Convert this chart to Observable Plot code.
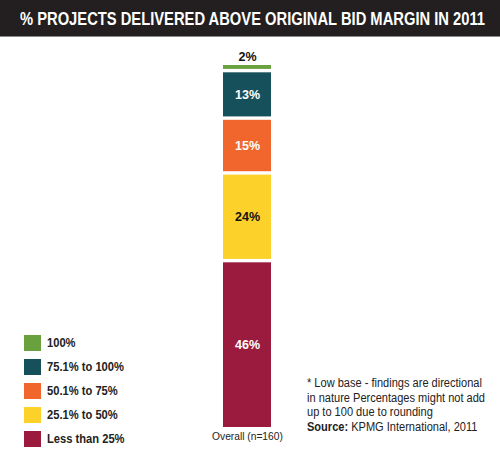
<!DOCTYPE html>
<html><head><meta charset="utf-8">
<script src="https://cdn.jsdelivr.net/npm/d3@7"></script>
<script src="https://cdn.jsdelivr.net/npm/@observablehq/plot@0.6"></script>
<style>
body{margin:0;background:#fff;}
#wrap{position:relative;width:500px;height:450px;overflow:hidden;font-family:"Liberation Sans",Arial,sans-serif;}
#title{height:36px;background:#231f20;border-bottom:1px solid #8a8a8a;position:relative;}
#title span{position:absolute;left:20px;top:0;color:#fff;font-weight:bold;font-size:18px;line-height:39px;white-space:nowrap;transform-origin:0 0;display:inline-block;}
#legend{position:absolute;left:24px;top:335px;}
.row{position:relative;height:24px;}
.sw{position:absolute;left:0;top:0;width:17px;height:16px;}
.lt{position:absolute;left:23px;top:0;line-height:16px;font-size:12px;font-weight:bold;color:#222;white-space:nowrap;transform-origin:0 50%;}
#note{position:absolute;left:307px;top:376px;font-size:12px;line-height:14.5px;color:#222;white-space:nowrap;transform-origin:0 0;}
</style>
</head><body>
<div id="wrap">
<div id="title"><span id="tt">% PROJECTS DELIVERED ABOVE ORIGINAL BID MARGIN IN 2011</span></div>
<div id="chart"></div>
<div id="legend"></div>
<div id="note">* Low base - findings are directional<br>in nature Percentages might not add<br>up to 100 due to rounding<br><b>Source:</b> KPMG International, 2011</div>
</div>
<script>
// data, bottom to top of the stack
const groups = ["Overall (n=160)"];
const categories = ["Less than 25%", "25.1% to 50%", "50.1% to 75%", "75.1% to 100%", "100%"];
const values = [46, 24, 15, 13, 2];
const colors = ["#9b1b3e", "#fcd12a", "#f0662c", "#16505b", "#6aa13f"];
const darkLabel = ["25.1% to 50%"];

const data = categories.map((c, i) => ({group: groups[0], cat: c, value: values[i]}));
const FONT = '"Liberation Sans",Arial,sans-serif';

const chart = Plot.plot({
  width: 500,
  height: 413,
  marginTop: 26.3,
  marginBottom: 21.3,
  marginLeft: 223,
  marginRight: 229,
  style: {fontFamily: FONT, background: "transparent"},
  x: {domain: groups, padding: 0, label: null},
  y: {domain: [0, 100], axis: null},
  color: {domain: categories, range: colors},
  marks: [
    Plot.barY(data, {x: "group", y: "value", fill: "cat", insetTop: 1.7, insetBottom: 1.7}),
    Plot.text(data, Plot.stackY({x: "group", y: "value",
      text: d => (d.value >= 5 && !darkLabel.includes(d.cat)) ? d.value + "%" : null,
      fill: "white", fontWeight: "bold", fontSize: 12.5})),
    Plot.text(data, Plot.stackY({x: "group", y: "value",
      text: d => (d.value >= 5 && darkLabel.includes(d.cat)) ? d.value + "%" : null,
      fill: "#111", fontWeight: "bold", fontSize: 12.5})),
    Plot.text(data, Plot.stackY2({x: "group", y: "value",
      text: d => d.value < 5 ? d.value + "%" : null,
      fill: "#111", fontWeight: "bold", fontSize: 12.5, dy: -7})),
    Plot.axisX({tickSize: 0, tickPadding: 3, fontSize: 11.5, label: null, color: "#222"})
  ]
});
document.getElementById("chart").appendChild(chart);

const legend = document.getElementById("legend");
categories.slice().reverse().forEach((c) => {
  const i = categories.indexOf(c);
  const row = document.createElement("div");
  row.className = "row";
  const sw = document.createElement("div");
  sw.className = "sw";
  sw.style.background = colors[i];
  const lt = document.createElement("div");
  lt.className = "lt";
  lt.textContent = c;
  row.appendChild(sw); row.appendChild(lt);
  legend.appendChild(row);
});

// condense texts horizontally to the widths seen in the reference
function fitX(el, target) {
  const w = el.getBoundingClientRect().width;
  if (w > 0) el.style.transform = `scaleX(${target / w})`;
}
fitX(document.getElementById("tt"), 465);
const note = document.getElementById("note");
// first line should be ~175px wide; measure whole block (widest line is line 1 or 2)
fitX(note, 178);
document.querySelectorAll(".lt").forEach(el => el.style.transform = "scaleX(0.93)");
const tick = chart.querySelector('g[aria-label="x-axis tick label"] text');
if (tick) {
  const w = tick.getBBox().width;
  const cx = 247;
  tick.setAttribute("transform", (tick.getAttribute("transform") || "") );
  tick.parentNode.setAttribute("transform", `translate(${cx},0) scale(${71 / w},1) translate(${-cx},0) ` + (tick.parentNode.getAttribute("transform") || ""));
}
</script>
</body></html>
